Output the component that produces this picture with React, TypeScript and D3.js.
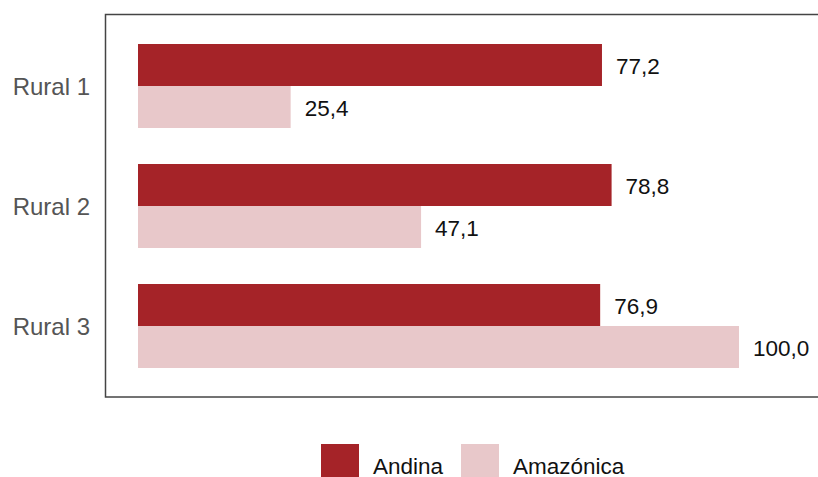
import React from "react";
import * as d3 from "d3";

const categories = ["Rural 1", "Rural 2", "Rural 3"];
const seriesNames = ["Andina", "Amazónica"];
const andina = [77.2, 78.8, 76.9];
const amazonica = [25.4, 47.1, 100.0];
const colors = ["#a52328", "#e8c8ca"];

export default function App() {
  const W = 818, H = 477;
  const x = d3.scaleLinear().domain([0, 100]).range([138, 739]);
  const y = d3.scaleBand().domain(categories).range([26, 386]).paddingInner(0.3).paddingOuter(0.15);
  const inner = d3.scaleBand().domain(seriesNames).range([0, y.bandwidth()]);
  const series = [andina, amazonica];
  const fmt = (v: number) => v.toFixed(1).replace(".", ",");
  const font = "'Liberation Sans', Arial, Helvetica, sans-serif";
  const legendX = [321, 461];
  const legendTextX = [373, 513];
  return (
    <svg width={W} height={H} style={{ position: "absolute", left: 0, top: 0 }} fontFamily={font}>
      <rect x={0} y={0} width={W} height={H} fill="#fff" />
      <rect x={105.5} y={14.5} width={W} height={382.5} fill="none" stroke="#444" strokeWidth={1.5} />
      {categories.map((c, i) => (
        <g key={c}>
          <text x={90} y={(y(c) as number) + y.bandwidth() / 2 + 9} textAnchor="end" fontSize={24} fill="#555">
            {c}
          </text>
          {series.map((s, j) => {
            const yy = (y(c) as number) + (inner(seriesNames[j]) as number);
            return (
              <g key={j}>
                <rect x={x(0)} y={yy} width={x(s[i]) - x(0)} height={inner.bandwidth()} fill={colors[j]} />
                <text x={x(s[i]) + 14} y={yy + inner.bandwidth() / 2 + 9} fontSize={22.5} fill="#111">
                  {fmt(s[i])}
                </text>
              </g>
            );
          })}
        </g>
      ))}
      {seriesNames.map((n, j) => (
        <g key={n}>
          <rect x={legendX[j]} y={444} width={38} height={33} fill={colors[j]} />
          <text x={legendTextX[j]} y={474} fontSize={22.5} fill="#111">
            {n}
          </text>
        </g>
      ))}
    </svg>
  );
}
